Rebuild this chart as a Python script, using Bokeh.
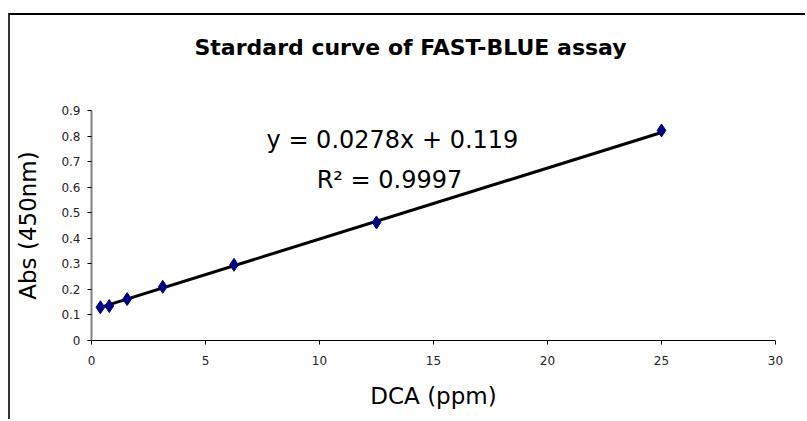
from bokeh.plotting import figure
from bokeh.models import Range1d, FixedTicker, Label, Title
from bokeh.embed import file_html
from bokeh.resources import INLINE

# Data
dca_ppm = [0.39, 0.78, 1.5625, 3.125, 6.25, 12.5, 25.0]
absorbance = [0.130, 0.135, 0.162, 0.210, 0.296, 0.462, 0.822]
slope = 0.0278
intercept = 0.119
r_squared = 0.9997
x_ticks = [0, 5, 10, 15, 20, 25, 30]
y_ticks = [0, 0.1, 0.2, 0.3, 0.4, 0.5, 0.6, 0.7, 0.8, 0.9]
y_tick_labels = ["0", "0.1", "0.2", "0.3", "0.4", "0.5", "0.6", "0.7", "0.8", "0.9"]
title_text = "Stardard curve of FAST-BLUE assay"

FONT = "DejaVu Sans"

p = figure(width=797, height=406, output_backend="svg", toolbar_location=None,
           x_range=Range1d(0, 30), y_range=Range1d(0, 0.9),
           min_border_left=81, min_border_right=32, min_border_top=95,
           min_border_bottom=81, title=None)
p.margin = (13, 0, 0, 8)
p.styles = {"border-left": "2px solid #333333", "border-top": "2px solid #000000"}
p.outline_line_color = None
p.background_fill_color = "white"
p.border_fill_color = "white"
p.xgrid.visible = False
p.ygrid.visible = False

# spacer between frame and title, then the title itself
p.add_layout(Title(text=" ", text_font_size="10px", standoff=38), "above")
p.add_layout(Title(text=title_text, align="left", offset=103, standoff=0,
                   text_font=FONT, text_font_size="22px", text_font_style="bold",
                   text_color="black"), "above")

# fitted trendline over data range
fit_x = [min(dca_ppm), max(dca_ppm)]
fit_y = [slope * v + intercept for v in fit_x]
p.line(fit_x, fit_y, line_color="black", line_width=3)
p.scatter(dca_ppm, absorbance, marker="diamond", size=13,
          fill_color="#000080", line_color="#000080")

# axes
p.xaxis.ticker = FixedTicker(ticks=x_ticks)
p.yaxis.ticker = FixedTicker(ticks=y_ticks)
p.yaxis.major_label_overrides = {v: s for v, s in zip(y_ticks, y_tick_labels)}
for ax in (p.xaxis[0], p.yaxis[0]):
    ax.major_label_text_font = FONT
    ax.major_label_text_font_size = "12px"
    ax.major_label_text_color = "#222222"
    ax.minor_tick_line_color = None
    ax.major_tick_out = 4
    ax.major_tick_in = 0
    ax.major_tick_line_color = "black"
    ax.axis_label_text_font = FONT
    ax.axis_label_text_font_size = "23px"
    ax.axis_label_text_font_style = "normal"
    ax.axis_label_text_color = "black"
p.xaxis.axis_line_color = "black"
p.yaxis.axis_line_color = "#808080"
p.yaxis.axis_line_width = 2
p.xaxis.major_label_standoff = 11
p.yaxis.major_label_standoff = 7
p.xaxis.axis_label = "DCA (ppm)"
p.yaxis.axis_label = "Abs (450nm)"
p.xaxis.axis_label_standoff = 15
p.yaxis.axis_label_standoff = 17

p.add_layout(Label(x=13.2, y=0.783, text=f"y = {slope}x + {intercept}",
                   text_align="center", text_baseline="alphabetic",
                   text_font=FONT, text_font_size="24px", text_color="black"))
p.add_layout(Label(x=13.07, y=0.630, text=f"R\u00b2 = {r_squared}",
                   text_align="center", text_baseline="alphabetic",
                   text_font=FONT, text_font_size="24px", text_color="black"))

open("out.html", "w").write(file_html(p, INLINE))
